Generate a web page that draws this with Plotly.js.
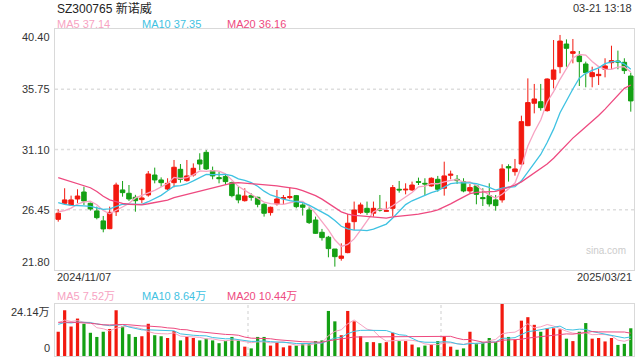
<!DOCTYPE html>
<html><head><meta charset="utf-8">
<script src="https://cdn.plot.ly/plotly-3.0.1.min.js"></script>
<style>html,body{margin:0;padding:0;background:#fff;}#chart{width:640px;height:360px;}</style>
</head><body><div id="chart"></div>
<script>
const stockTitle = 'SZ300765 新诺威';
const timeStamp = '03-21 13:18';
const dateLabels = ['2024/11/07', '2025/03/21'];
const priceTicks = [40.40, 35.75, 31.10, 26.45, 21.80];
const volMaxLabel = 24.14;
const maPeriods = [5, 10, 20];
const priceMaShown = [37.14, 37.35, 36.16];
const volMaShown = [7.52, 8.64, 10.44];

const openP = [25.71,26.95,26.82,27.28,27.82,26.95,26.36,25.59,24.99,26.30,
27.98,27.72,27.41,27.23,27.59,29.13,28.75,28.05,28.54,29.57,
28.70,29.13,30.29,30.88,29.47,28.93,29.01,28.54,27.59,27.15,
27.54,27.41,26.87,26.23,26.90,27.31,27.39,27.54,26.82,26.43,
25.66,24.71,24.33,23.42,22.70,23.14,25.53,26.23,26.56,26.18,
26.51,26.33,26.56,28.03,27.98,27.98,28.62,28.49,28.29,28.80,
28.11,29.11,28.80,28.62,27.90,28.29,27.39,27.54,27.21,27.21,
29.78,29.39,29.98,32.94,34.67,34.79,34.10,36.52,37.49,39.24,
38.52,38.32,37.70,36.72,36.80,37.29,37.80,37.93,37.83,36.77];
const highP = [26.49,28.11,27.54,28.03,28.23,27.00,26.69,25.97,26.69,28.54,
28.67,28.36,27.60,28.06,29.44,29.70,28.95,28.88,30.29,29.98,
30.29,30.03,30.81,31.06,29.78,29.37,29.13,28.62,28.23,28.11,
27.72,27.46,26.95,26.69,27.98,27.59,28.18,27.59,26.95,26.64,
25.92,24.97,24.43,23.42,23.86,26.13,27.08,27.00,27.08,27.08,
27.59,27.08,28.36,28.67,28.49,28.62,28.93,28.88,28.95,29.06,
30.16,29.47,29.13,28.88,28.44,28.31,28.11,28.49,27.59,29.96,
29.96,30.37,33.71,36.59,36.16,36.16,36.59,39.55,39.94,39.60,
39.63,38.70,37.88,37.49,37.36,38.14,39.11,38.73,38.14,37.03];
const lowP = [25.53,26.87,26.74,26.95,26.82,26.38,25.71,24.71,24.95,25.97,
27.46,27.13,26.30,26.95,27.46,28.49,28.23,27.98,28.18,28.54,
28.62,29.01,29.52,29.52,28.80,28.49,28.36,27.41,26.95,27.08,
27.15,26.64,25.92,26.00,26.77,26.82,27.26,26.56,26.00,25.35,
24.58,24.07,22.78,22.06,22.52,23.09,24.89,26.13,26.05,25.92,
26.31,26.31,25.97,27.77,27.64,27.90,28.36,27.59,28.23,27.85,
27.54,28.80,28.44,27.80,27.72,26.87,26.74,26.69,26.38,27.00,
28.62,29.08,29.91,32.90,33.89,34.10,34.02,35.82,36.98,37.49,
37.75,36.00,35.90,35.90,36.08,36.67,37.29,37.29,36.93,34.02];
const closeP = [26.18,27.21,27.21,27.51,27.13,26.51,25.84,24.97,26.25,28.36,
27.77,27.28,27.15,27.36,29.21,28.75,28.54,28.49,29.73,28.80,
29.06,29.65,29.98,29.60,29.06,28.85,28.62,27.54,27.21,27.51,
27.41,26.87,26.18,26.64,27.28,27.39,27.46,26.69,26.64,25.46,
24.63,24.30,23.45,22.83,22.88,25.41,26.43,26.82,26.25,26.56,
26.43,26.38,28.16,27.98,28.03,28.36,28.57,28.44,28.88,28.03,
29.06,29.19,28.70,27.90,28.16,27.64,27.31,26.90,26.77,29.60,
29.68,29.60,33.25,34.72,35.00,34.33,36.54,37.24,39.47,38.91,
38.65,37.88,37.03,37.03,36.90,37.55,37.96,37.85,37.19,34.85];
// volume in 万
const volume = [11.26,21.24,13.68,17.38,14.96,10.78,8.85,11.26,12.55,21.24,
13.68,10.14,8.85,9.17,14.96,9.65,9.17,8.37,11.58,7.24,
8.85,8.37,7.24,8.05,7.24,5.95,6.92,8.85,7.24,4.34,
3.54,8.85,8.85,4.83,6.44,4.02,4.83,4.83,5.95,5.95,
6.92,7.24,20.92,16.09,9.65,20.92,16.09,9.17,6.44,6.44,
5.95,6.44,10.78,6.92,6.92,5.31,4.02,4.83,5.31,6.92,
9.17,4.34,2.90,3.54,11.26,5.95,6.44,8.37,6.44,24.14,
8.85,7.56,16.41,18.02,14.48,11.26,12.87,12.87,12.39,8.05,
6.92,11.26,15.29,8.05,8.37,6.76,8.37,5.15,5.63,12.87];
// estimated sessions before the first visible day (only feed the moving averages)
const preClose = [30.2,31.0,30.6,29.9,29.6,31.5,32.4,31.8,31.2,30.4,
28.6,28.0,27.4,27.6,27.0,26.8,26.2,26.0,26.3];
const preVolume = [18.5,16.2,20.1,14.8,17.3,15.6,19.2,13.4,16.8,14.1,
12.9,15.7,13.2,16.4,12.1,14.6,16.9,15.3,18.7];

const UP = '#f2190f', DOWN = '#14a014';
const MA_COLORS = ['#f7a3c2', '#3fc2e2', '#ee4a80'];
const FONT = 'Liberation Sans, Arial, Noto Sans CJK SC, sans-serif';

const N = closeP.length;
const xs = closeP.map((_, i) => i);

function movingAvg(pre, series, p) {
  const full = pre.concat(series);
  const off = pre.length;
  return series.map((_, i) => {
    let s = 0;
    for (let k = i + off - p + 1; k <= i + off; k++) s += full[k];
    return s / p;
  });
}

const traces = [];
traces.push({
  type: 'candlestick', x: xs, open: openP, high: highP, low: lowP, close: closeP,
  xaxis: 'x', yaxis: 'y', line: {width: 1}, whiskerwidth: 0,
  increasing: {line: {color: UP, width: 1}, fillcolor: UP},
  decreasing: {line: {color: DOWN, width: 1}, fillcolor: DOWN},
  hoverinfo: 'skip', showlegend: false
});
maPeriods.forEach((p, k) => {
  traces.push({type: 'scatter', mode: 'lines', x: xs, y: movingAvg(preClose, closeP, p),
    xaxis: 'x', yaxis: 'y', line: {color: MA_COLORS[k], width: 1.3}, hoverinfo: 'skip', showlegend: false});
});
traces.push({
  type: 'bar', x: xs, y: volume, xaxis: 'x2', yaxis: 'y2', width: 0.5,
  marker: {color: closeP.map((c, i) => c >= openP[i] ? UP : DOWN), line: {width: 0}},
  hoverinfo: 'skip', showlegend: false
});
maPeriods.forEach((p, k) => {
  traces.push({type: 'scatter', mode: 'lines', x: xs, y: movingAvg(preVolume, volume, p),
    xaxis: 'x2', yaxis: 'y2', line: {color: MA_COLORS[k], width: 1}, hoverinfo: 'skip', showlegend: false});
});

const BORDER = '#d9d9d9';
const shapes = [];
priceTicks.slice(1, -1).forEach(v => shapes.push({type: 'line', xref: 'paper', yref: 'y', x0: 0, x1: 1, y0: v, y1: v,
  line: {color: '#dedede', width: 1.5, dash: 'dot'}, layer: 'below'}));
[1/3, 2/3].forEach(f => shapes.push({type: 'line', xref: 'paper', yref: 'paper', x0: f, x1: f, y0: 0, y1: 0.159,
  line: {color: '#cfcfcf', width: 1, dash: 'dot'}, layer: 'below'}));

const ann = [];
const txt = (o) => ann.push(Object.assign({showarrow: false, font: {family: FONT, size: 11, color: '#333'}}, o));
txt({text: stockTitle, xref: 'paper', yref: 'paper', x: 0, y: 1.064, xanchor: 'left', yanchor: 'middle', font: {family: FONT, size: 12, color: '#222'}});
txt({text: timeStamp, xref: 'paper', yref: 'paper', x: 1, y: 1.064, xanchor: 'right', yanchor: 'middle'});
const maX = [0, 0.147, 0.294];
maPeriods.forEach((p, k) => {
  txt({text: 'MA' + p + ' ' + priceMaShown[k].toFixed(2), xref: 'paper', yref: 'paper', x: maX[k], y: 1.015,
    xanchor: 'left', yanchor: 'middle', font: {family: FONT, size: 11, color: MA_COLORS[k]}});
  txt({text: 'MA' + p + ' ' + volMaShown[k].toFixed(2) + '万', xref: 'paper', yref: 'paper', x: maX[k], y: 0.1835,
    xanchor: 'left', yanchor: 'middle', font: {family: FONT, size: 11, color: MA_COLORS[k]}});
});
priceTicks.forEach((v, i) => {
  txt({text: v.toFixed(2), xref: 'paper', yref: 'y', x: 0, y: v, xanchor: 'right', xshift: -3,
    yanchor: i === 0 ? 'top' : (i === priceTicks.length - 1 ? 'bottom' : 'middle')});
});
txt({text: dateLabels[0], xref: 'paper', yref: 'paper', x: 0, y: 0.2416, xanchor: 'left', yanchor: 'middle'});
txt({text: dateLabels[1], xref: 'paper', yref: 'paper', x: 1, y: 0.2416, xanchor: 'right', yanchor: 'middle'});
txt({text: volMaxLabel.toFixed(2) + '万', xref: 'paper', yref: 'y2', x: 0, y: volMaxLabel, xanchor: 'right', xshift: -3, yanchor: 'top'});
txt({text: '0', xref: 'paper', yref: 'y2', x: 0, y: 0, xanchor: 'right', xshift: -3, yanchor: 'bottom'});
txt({text: 'sina.com', xref: 'paper', yref: 'y', x: 0.99, y: 21.80, xanchor: 'right', yanchor: 'bottom', yshift: 12,
  font: {family: FONT, size: 10, color: '#cccccc'}});

const axBase = {showgrid: false, zeroline: false, showticklabels: false, ticks: '', showline: true, mirror: true,
  linecolor: BORDER, linewidth: 1, fixedrange: true};
const layout = {
  width: 640, height: 360, margin: {l: 55, r: 6, t: 29, b: 4},
  paper_bgcolor: '#fff', plot_bgcolor: '#fff', showlegend: false,
  boxgap: 0.3, boxgroupgap: 0, hovermode: false,
  xaxis: Object.assign({}, axBase, {range: [-0.5, N - 0.5], anchor: 'y', rangeslider: {visible: false}}),
  yaxis: Object.assign({}, axBase, {range: [priceTicks[priceTicks.length - 1], priceTicks[0]], domain: [0.263, 1], anchor: 'x'}),
  xaxis2: Object.assign({}, axBase, {range: [-0.5, N - 0.5], anchor: 'y2'}),
  yaxis2: Object.assign({}, axBase, {range: [0, volMaxLabel], domain: [0, 0.159], anchor: 'x2'}),
  shapes: shapes, annotations: ann, font: {family: FONT}
};
Plotly.newPlot('chart', traces, layout, {displayModeBar: false, staticPlot: true});
</script></body></html>
